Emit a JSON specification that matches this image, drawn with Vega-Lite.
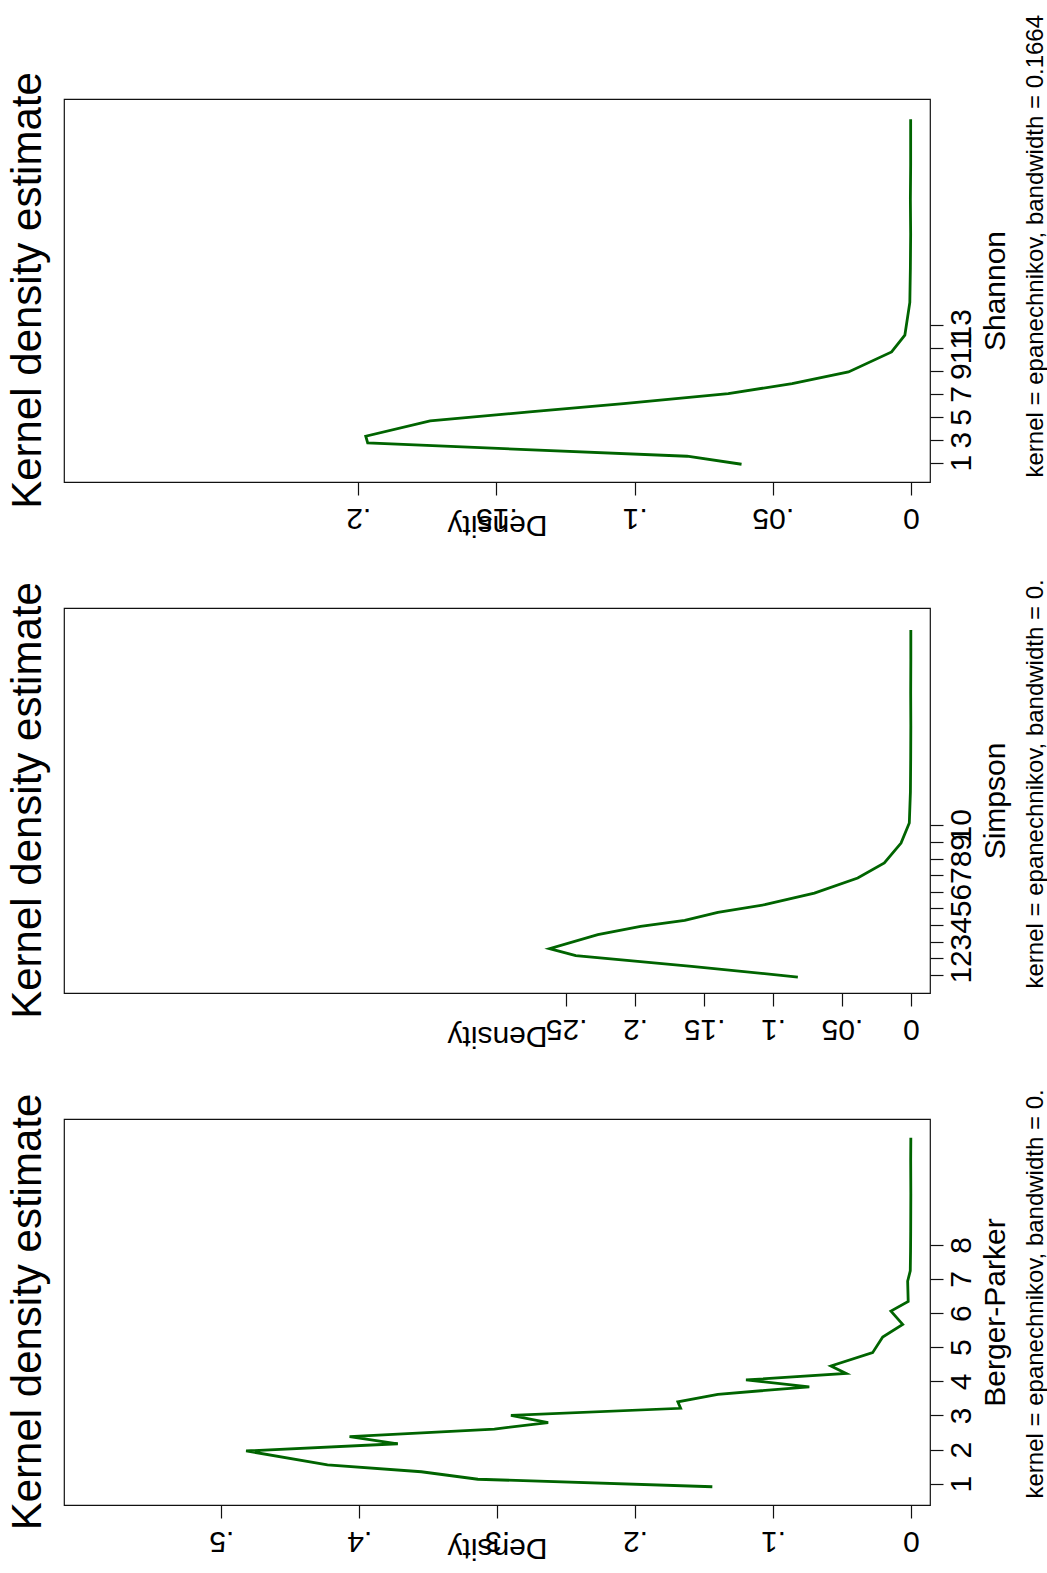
{
  "$schema": "https://vega.github.io/schema/vega-lite/v6.json",
  "background": "white",
  "padding": {"left": 6, "top": 13, "right": 0, "bottom": 8},
  "bounds": "flush",
  "spacing": 126,
  "config": {
    "font": "Liberation Sans",
    "view": {"stroke": "#111111", "strokeWidth": 1.2},
    "axis": {
      "labelFont": "Liberation Sans", "labelFontSize": 30, "labelColor": "black",
      "titleFont": "Liberation Sans", "titleFontSize": 30, "titleFontWeight": "normal", "titleColor": "black",
      "tickColor": "#111111", "tickSize": 13, "tickWidth": 1.2, "domain": false, "grid": false,
      "labelOverlap": false, "labelFlush": false
    },
    "title": {"font": "Liberation Sans", "fontSize": 42, "fontWeight": "normal", "color": "black"}
  },
  "datasets": {
    "shannon": [
      {"value": 0.86, "density": 0.0613}, {"value": 1.56, "density": 0.081}, {"value": 2.72, "density": 0.1966},
      {"value": 3.31, "density": 0.1973}, {"value": 4.64, "density": 0.174}, {"value": 5.43, "density": 0.138},
      {"value": 6.15, "density": 0.104}, {"value": 7.03, "density": 0.0661}, {"value": 7.9, "density": 0.043},
      {"value": 8.92, "density": 0.0226}, {"value": 10.67, "density": 0.007}, {"value": 12.13, "density": 0.0022},
      {"value": 15.0, "density": 0.0004}, {"value": 18.0, "density": 0.0002}, {"value": 21.0, "density": 0.0001},
      {"value": 24.0, "density": 0.0002}, {"value": 27.0, "density": 0.0001}, {"value": 31.0, "density": 0.0001}
    ],
    "simpson": [
      {"value": 0.86, "density": 0.082}, {"value": 1.51, "density": 0.159}, {"value": 2.15, "density": 0.243},
      {"value": 2.57, "density": 0.262}, {"value": 3.41, "density": 0.227}, {"value": 3.92, "density": 0.196},
      {"value": 4.28, "density": 0.164}, {"value": 4.76, "density": 0.14}, {"value": 5.22, "density": 0.106},
      {"value": 5.92, "density": 0.07}, {"value": 6.83, "density": 0.0386}, {"value": 7.73, "density": 0.0193},
      {"value": 8.93, "density": 0.0072}, {"value": 10.14, "density": 0.0012}, {"value": 12.0, "density": 0.0004},
      {"value": 14.0, "density": 0.0002}, {"value": 16.0, "density": 0.0001}, {"value": 18.0, "density": 0.0002},
      {"value": 20.0, "density": 0.0001}, {"value": 21.77, "density": 0.0001}
    ],
    "berger": [
      {"value": 0.91, "density": 0.144}, {"value": 1.13, "density": 0.314}, {"value": 1.35, "density": 0.355},
      {"value": 1.55, "density": 0.423}, {"value": 1.96, "density": 0.482}, {"value": 2.17, "density": 0.372},
      {"value": 2.38, "density": 0.407}, {"value": 2.6, "density": 0.302}, {"value": 2.79, "density": 0.263},
      {"value": 3.0, "density": 0.29}, {"value": 3.21, "density": 0.167}, {"value": 3.4, "density": 0.169},
      {"value": 3.62, "density": 0.14}, {"value": 3.84, "density": 0.0737}, {"value": 4.04, "density": 0.1196},
      {"value": 4.23, "density": 0.047}, {"value": 4.45, "density": 0.058}, {"value": 4.84, "density": 0.0278},
      {"value": 5.3, "density": 0.0205}, {"value": 5.67, "density": 0.006}, {"value": 6.06, "density": 0.0145},
      {"value": 6.34, "density": 0.002}, {"value": 6.94, "density": 0.0024}, {"value": 7.24, "density": 0.0005},
      {"value": 7.82, "density": 0.0003}, {"value": 8.4, "density": 0.0002}, {"value": 9.5, "density": 0.0001},
      {"value": 10.5, "density": 0.0002}, {"value": 11.14, "density": 0.0001}
    ]
  },
  "vconcat": [
    {
      "width": 866, "height": 383,
      "title": {"text": "Kernel density estimate", "orient": "left", "anchor": "middle", "baseline": "alphabetic", "offset": -19},
      "data": {"name": "shannon"},
      "layer": [
        {
          "mark": {"type": "line", "color": "#006400", "strokeWidth": 2.8},
          "encoding": {
            "x": {"field": "density", "type": "quantitative", "scale": {"domain": [-0.0069, 0.3065], "reverse": true, "nice": false, "zero": false},
              "axis": {"values": [0, 0.05, 0.1, 0.15, 0.2], "format": ".2~f", "labelExpr": "datum.value == 0 ? '0' : substring(datum.label, 1)",
                "labelAngle": 180, "labelAlign": "center", "labelBaseline": "alphabetic", "labelPadding": 13,
                "title": "Density", "titleAngle": 180, "titleAlign": "center", "titleBaseline": "alphabetic", "titleY": 33}},
            "y": {"field": "value", "type": "quantitative", "scale": {"domain": [-0.69, 32.76], "nice": false, "zero": false},
              "axis": {"orient": "right", "values": [1, 3, 5, 7, 9, 11, 13], "format": "d", "labelAngle": -90, "labelAlign": "center", "labelBaseline": "alphabetic", "labelPadding": 27,
                "title": "Shannon", "titleAngle": -90, "titleAlign": "center", "titleBaseline": "alphabetic", "titleX": 74}},
            "order": {"field": "value", "type": "quantitative"}
          }
        },
        {
          "mark": {"type": "rule", "strokeOpacity": 0},
          "encoding": {
            "y": {"field": "value", "type": "quantitative", "scale": {"domain": [-0.69, 32.76], "nice": false, "zero": false},
              "axis": {"orient": "right", "labels": false, "ticks": false, "domain": false, "title": "kernel = epanechnikov, bandwidth = 0.1664",
                "titleFontSize": 24, "titleAngle": -90, "titleAlign": "left", "titleBaseline": "alphabetic", "titleX": 112, "titleY": 378}}
          }
        }
      ],
      "resolve": {"scale": {"y": "independent"}}
    },
    {
      "width": 866, "height": 385,
      "title": {"text": "Kernel density estimate", "orient": "left", "anchor": "middle", "baseline": "alphabetic", "offset": -19},
      "data": {"name": "simpson"},
      "layer": [
        {
          "mark": {"type": "line", "color": "#006400", "strokeWidth": 2.8},
          "encoding": {
            "x": {"field": "density", "type": "quantitative", "scale": {"domain": [-0.0138, 0.614], "reverse": true, "nice": false, "zero": false},
              "axis": {"values": [0, 0.05, 0.1, 0.15, 0.2, 0.25], "format": ".2~f", "labelExpr": "datum.value == 0 ? '0' : substring(datum.label, 1)",
                "labelAngle": 180, "labelAlign": "center", "labelBaseline": "alphabetic", "labelPadding": 13,
                "title": "Density", "titleAngle": 180, "titleAlign": "center", "titleBaseline": "alphabetic", "titleY": 33}},
            "y": {"field": "value", "type": "quantitative", "scale": {"domain": [-0.1, 23.09], "nice": false, "zero": false},
              "axis": {"orient": "right", "values": [1, 2, 3, 4, 5, 6, 7, 8, 9, 10], "format": "d", "labelAngle": -90, "labelAlign": "center", "labelBaseline": "alphabetic", "labelPadding": 27,
                "title": "Simpson", "titleAngle": -90, "titleAlign": "center", "titleBaseline": "alphabetic", "titleX": 74}},
            "order": {"field": "value", "type": "quantitative"}
          }
        },
        {
          "mark": {"type": "rule", "strokeOpacity": 0},
          "encoding": {
            "y": {"field": "value", "type": "quantitative", "scale": {"domain": [-0.1, 23.09], "nice": false, "zero": false},
              "axis": {"orient": "right", "labels": false, "ticks": false, "domain": false, "title": "kernel = epanechnikov, bandwidth = 0.",
                "titleFontSize": 24, "titleAngle": -90, "titleAlign": "left", "titleBaseline": "alphabetic", "titleX": 112, "titleY": 380}}
          }
        }
      ],
      "resolve": {"scale": {"y": "independent"}}
    },
    {
      "width": 866, "height": 386,
      "title": {"text": "Kernel density estimate", "orient": "left", "anchor": "middle", "baseline": "alphabetic", "offset": -19},
      "data": {"name": "berger"},
      "layer": [
        {
          "mark": {"type": "line", "color": "#006400", "strokeWidth": 2.8},
          "encoding": {
            "x": {"field": "density", "type": "quantitative", "scale": {"domain": [-0.0138, 0.614], "reverse": true, "nice": false, "zero": false},
              "axis": {"values": [0, 0.1, 0.2, 0.3, 0.4, 0.5], "format": ".2~f", "labelExpr": "datum.value == 0 ? '0' : substring(datum.label, 1)",
                "labelAngle": 180, "labelAlign": "center", "labelBaseline": "alphabetic", "labelPadding": 13,
                "title": "Density", "titleAngle": 180, "titleAlign": "center", "titleBaseline": "alphabetic", "titleY": 33}},
            "y": {"field": "value", "type": "quantitative", "scale": {"domain": [0.375, 11.69], "nice": false, "zero": false},
              "axis": {"orient": "right", "values": [1, 2, 3, 4, 5, 6, 7, 8], "format": "d", "labelAngle": -90, "labelAlign": "center", "labelBaseline": "alphabetic", "labelPadding": 27,
                "title": "Berger-Parker", "titleAngle": -90, "titleAlign": "center", "titleBaseline": "alphabetic", "titleX": 74}},
            "order": {"field": "value", "type": "quantitative"}
          }
        },
        {
          "mark": {"type": "rule", "strokeOpacity": 0},
          "encoding": {
            "y": {"field": "value", "type": "quantitative", "scale": {"domain": [0.375, 11.69], "nice": false, "zero": false},
              "axis": {"orient": "right", "labels": false, "ticks": false, "domain": false, "title": "kernel = epanechnikov, bandwidth = 0.",
                "titleFontSize": 24, "titleAngle": -90, "titleAlign": "left", "titleBaseline": "alphabetic", "titleX": 112, "titleY": 379}}
          }
        }
      ],
      "resolve": {"scale": {"y": "independent"}}
    }
  ]
}
